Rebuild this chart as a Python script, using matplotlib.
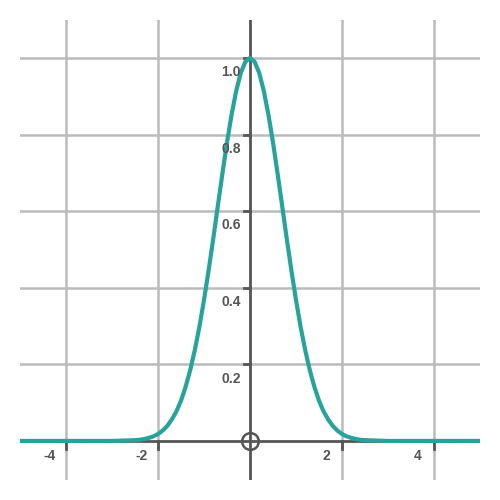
import matplotlib
matplotlib.use("Agg")
import matplotlib.pyplot as plt

half_x = [0.0,0.1,0.2,0.3,0.4,0.5,0.6,0.7,0.8,0.9,1.0,1.1,1.2,1.3,1.4,1.5,1.6,1.7,1.8,1.9,2.0,2.1,2.2,2.3,2.4,2.5,3.0,5.0]
half_y = [1.0,0.990,0.961,0.914,0.852,0.779,0.698,0.613,0.527,0.445,0.368,0.298,0.237,0.185,0.141,0.105,0.077,0.056,0.039,0.027,0.018,0.012,0.008,0.005,0.003,0.002,0.0,0.0]
x_ticks = [-4, -2, 2, 4]
y_ticks = [0.2, 0.4, 0.6, 0.8, 1.0]

xs = [-v for v in half_x[::-1]] + half_x[1:]
ys = half_y[::-1] + half_y[1:]

plt.rcParams['font.family'] = ['Liberation Sans', 'DejaVu Sans']
fig = plt.figure(figsize=(5, 5), dpi=100)
ax = fig.add_axes([0.04, 0.04, 0.92, 0.92])
ax.set_xlim(-5, 5)
ax.set_ylim(-0.102, 1.099)
for s in ax.spines.values():
    s.set_visible(False)
ax.set_xticks([]); ax.set_yticks([])

grid = "#bbbbbb"
for xv in x_ticks:
    ax.axvline(xv, color=grid, lw=1.8, zorder=1)
for yv in y_ticks:
    ax.axhline(yv, color=grid, lw=1.8, zorder=1)
ax.axhline(0, color="#555555", lw=2, zorder=2)
ax.axvline(0, color="#555555", lw=2, zorder=2)
for xv in x_ticks:
    ax.plot([xv, xv], [-0.02, 0.0], color="#555555", lw=2, zorder=2)
for yv in y_ticks:
    ax.plot([-0.12, 0.0], [yv, yv], color="#555555", lw=2, zorder=2)

ax.plot(xs, ys, color="#27a39c", lw=3, zorder=3)
ax.plot([0], [0], marker="o", ms=12, mfc="none", mec="#555555", mew=1.8, zorder=4)

lab = dict(color="#555555", fontsize=10, fontweight="bold")
for xv in x_ticks:
    ax.text(xv - 0.35, -0.04, f"{xv}", ha="center", va="center", **lab)
for yv in y_ticks:
    ax.text(-0.2, yv - 0.037, f"{yv:.1f}", ha="right", va="center", **lab)

fig.savefig("out.png", dpi=100)
